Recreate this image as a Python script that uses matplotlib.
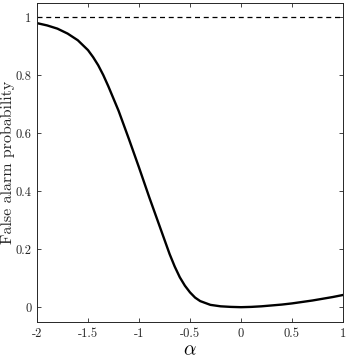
import matplotlib
matplotlib.use("Agg")
import matplotlib.pyplot as plt

plt.rcParams['font.family'] = ['cmr10', 'DejaVu Serif']
plt.rcParams['mathtext.fontset'] = 'cm'
plt.rcParams['axes.unicode_minus'] = False

alpha = [-2.0, -1.9, -1.8, -1.7, -1.6, -1.5, -1.45, -1.4, -1.35, -1.3, -1.2, -1.1, -1.0,
         -0.9, -0.8, -0.7, -0.65, -0.6, -0.55, -0.5, -0.45, -0.4, -0.3, -0.2, -0.1, 0.0,
         0.1, 0.2, 0.3, 0.4, 0.5, 0.6, 0.7, 0.8, 0.9, 1.0]
pfa = [0.979, 0.971, 0.960, 0.943, 0.920, 0.886, 0.862, 0.834, 0.800, 0.761, 0.677, 0.581, 0.482,
       0.380, 0.282, 0.184, 0.141, 0.104, 0.075, 0.052, 0.034, 0.022, 0.009, 0.004, 0.002, 0.001,
       0.002, 0.004, 0.007, 0.010, 0.014, 0.019, 0.024, 0.030, 0.036, 0.043]
ref_level = 1.0

xticks = [-2, -1.5, -1, -0.5, 0, 0.5, 1]
xticklabels = ['-2', '-1.5', '-1', '-0.5', '0', '0.5', '1']
yticks = [0, 0.2, 0.4, 0.6, 0.8, 1]
yticklabels = ['0', '0.2', '0.4', '0.6', '0.8', '1']

fig = plt.figure(figsize=(3.47, 3.59), dpi=100)
ax = fig.add_axes([37/347, 1-322/359, (343-37)/347, (322-2.5)/359])

ax.axhline(ref_level, color='black', linestyle=(0, (4, 3)), linewidth=0.9)
ax.plot(alpha, pfa, color='black', linewidth=1.7, solid_joinstyle='round')

ax.set_xlim(-2, 1)
ax.set_ylim(-0.05, 1.05)
ax.set_xticks(xticks)
ax.set_xticklabels(xticklabels)
ax.set_yticks(yticks)
ax.set_yticklabels(yticklabels)
ax.tick_params(direction='in', length=3, width=0.6, top=True, right=True,
               labelsize=9, colors='#262626', pad=4)
for s in ax.spines.values():
    s.set_linewidth(0.7)
    s.set_color('#262626')

ax.set_xlabel(r'$\alpha$', fontsize=14, labelpad=1)
ax.set_ylabel('False alarm probability', fontsize=11.5, color='#262626')
ax.yaxis.set_label_coords(-0.073, 0.5)

fig.savefig('out.png', dpi=100)
